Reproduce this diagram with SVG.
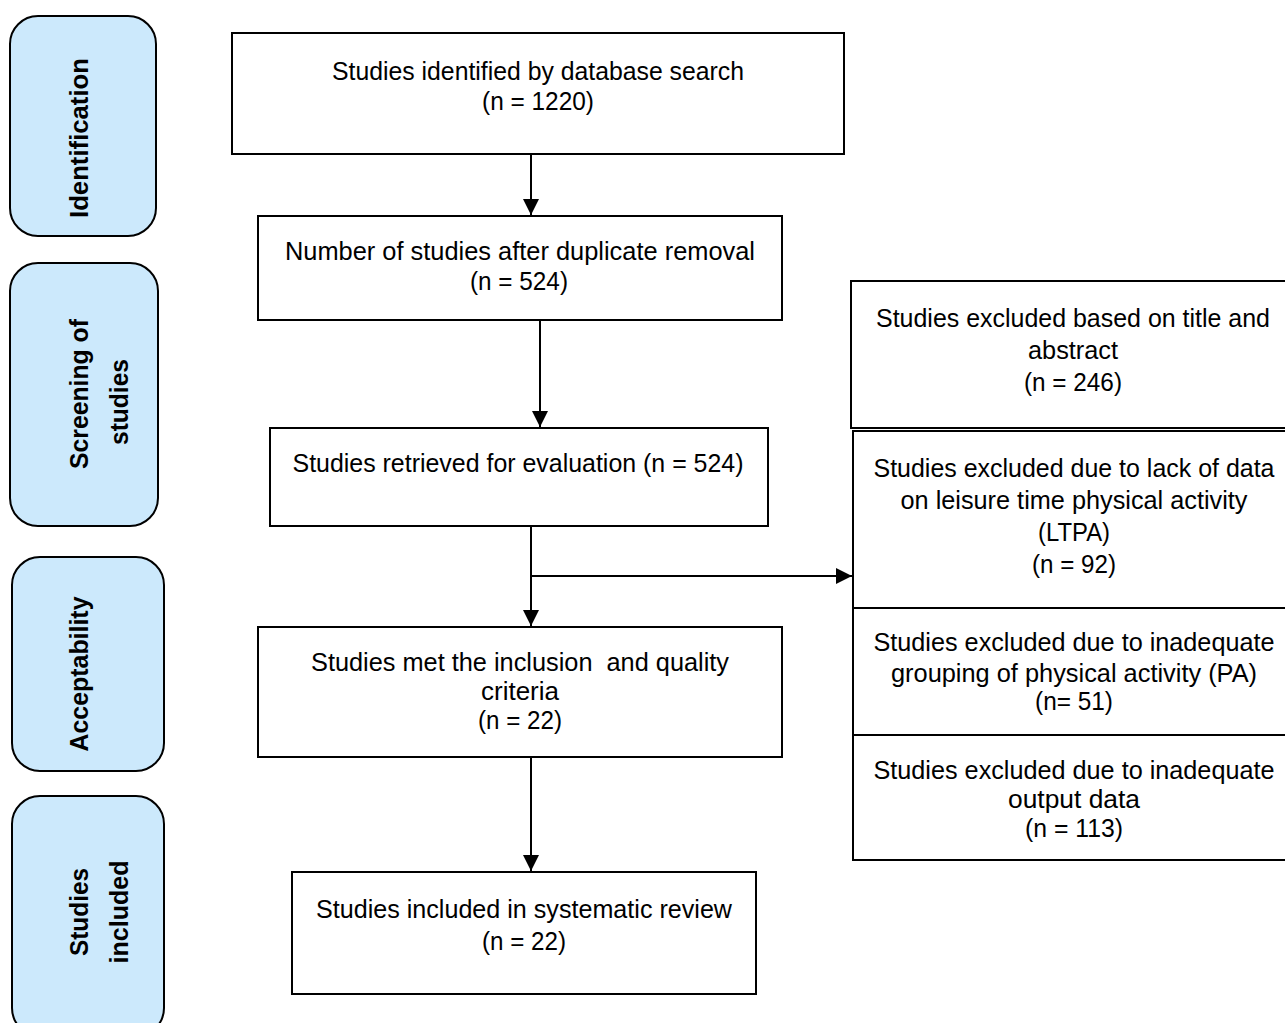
<svg xmlns="http://www.w3.org/2000/svg" width="1285" height="1023" viewBox="0 0 1285 1023">
<defs>
<style>
.box{fill:#fff;stroke:#000;stroke-width:2}
.stage{fill:#cce9fc;stroke:#000;stroke-width:2}
.t{font-family:"Liberation Sans",Arial,sans-serif;font-size:25px;fill:#000;text-anchor:middle}
.s{font-family:"Liberation Sans",Arial,sans-serif;font-size:25px;font-weight:bold;fill:#000;text-anchor:middle}
.c{fill:none;stroke:#000;stroke-width:2}
</style>
<marker id="ah" viewBox="0 0 10 10" refX="10" refY="5" markerWidth="8" markerHeight="8" orient="auto" markerUnits="strokeWidth">
<path d="M0,0 L10,5 L0,10 z" fill="#000"/>
</marker>
</defs>
<rect width="1285" height="1023" fill="#fff"/>

<g id="stage-identification">
<rect class="stage" x="10" y="16" width="146" height="220" rx="28"/>
<text class="s" transform="translate(88,138) rotate(-90)" textLength="160" lengthAdjust="spacingAndGlyphs">Identification</text>
</g>
<g id="stage-screening">
<rect class="stage" x="10" y="263" width="148" height="263" rx="28"/>
<text class="s" transform="translate(88,394) rotate(-90)" textLength="150" lengthAdjust="spacingAndGlyphs">Screening of</text>
<text class="s" transform="translate(128,402) rotate(-90)" textLength="86" lengthAdjust="spacingAndGlyphs">studies</text>
</g>
<g id="stage-acceptability">
<rect class="stage" x="12" y="557" width="152" height="214" rx="28"/>
<text class="s" transform="translate(88,674) rotate(-90)" textLength="155" lengthAdjust="spacingAndGlyphs">Acceptability</text>
</g>
<g id="stage-included">
<rect class="stage" x="12" y="796" width="152" height="240" rx="28"/>
<text class="s" transform="translate(88,912) rotate(-90)" textLength="88" lengthAdjust="spacingAndGlyphs">Studies</text>
<text class="s" transform="translate(128,912) rotate(-90)" textLength="103" lengthAdjust="spacingAndGlyphs">included</text>
</g>

<g id="n-identified">
<rect class="box" x="232" y="33" width="612" height="121"/>
<text class="t" x="538" y="80" textLength="412" lengthAdjust="spacingAndGlyphs">Studies identified by database search</text>
<text class="t" x="538" y="110" textLength="112" lengthAdjust="spacingAndGlyphs">(n = 1220)</text>
</g>
<g id="n-dedup">
<rect class="box" x="258" y="216" width="524" height="104"/>
<text class="t" x="520" y="260" textLength="470" lengthAdjust="spacingAndGlyphs">Number of studies after duplicate removal</text>
<text class="t" x="519" y="290" textLength="98" lengthAdjust="spacingAndGlyphs">(n = 524)</text>
</g>
<g id="n-retrieved">
<rect class="box" x="270" y="428" width="498" height="98"/>
<text class="t" x="518" y="472" textLength="451" lengthAdjust="spacingAndGlyphs">Studies retrieved for evaluation (n = 524)</text>
</g>
<g id="n-met">
<rect class="box" x="258" y="627" width="524" height="130"/>
<text class="t" x="520" y="671" textLength="418" lengthAdjust="spacingAndGlyphs" xml:space="preserve">Studies met the inclusion  and quality</text>
<text class="t" x="520" y="700" textLength="78" lengthAdjust="spacingAndGlyphs">criteria</text>
<text class="t" x="520" y="729" textLength="84" lengthAdjust="spacingAndGlyphs">(n = 22)</text>
</g>
<g id="n-included">
<rect class="box" x="292" y="872" width="464" height="122"/>
<text class="t" x="524" y="918" textLength="416" lengthAdjust="spacingAndGlyphs">Studies included in systematic review</text>
<text class="t" x="524" y="950" textLength="84" lengthAdjust="spacingAndGlyphs">(n = 22)</text>
</g>

<g id="x-title">
<rect class="box" x="851" y="281" width="440" height="147"/>
<text class="t" x="1073" y="327" textLength="394" lengthAdjust="spacingAndGlyphs">Studies excluded based on title and</text>
<text class="t" x="1073" y="359" textLength="90" lengthAdjust="spacingAndGlyphs">abstract</text>
<text class="t" x="1073" y="391" textLength="98" lengthAdjust="spacingAndGlyphs">(n = 246)</text>
</g>
<g id="x-ltpa">
<rect class="box" x="853" y="431" width="440" height="177"/>
<text class="t" x="1074" y="477" textLength="401" lengthAdjust="spacingAndGlyphs">Studies excluded due to lack of data</text>
<text class="t" x="1074" y="509" textLength="347" lengthAdjust="spacingAndGlyphs">on leisure time physical activity</text>
<text class="t" x="1074" y="541" textLength="72" lengthAdjust="spacingAndGlyphs">(LTPA)</text>
<text class="t" x="1074" y="573" textLength="84" lengthAdjust="spacingAndGlyphs">(n = 92)</text>
</g>
<g id="x-grouping">
<rect class="box" x="853" y="608" width="440" height="127"/>
<text class="t" x="1074" y="651" textLength="401" lengthAdjust="spacingAndGlyphs">Studies excluded due to inadequate</text>
<text class="t" x="1074" y="682" textLength="366" lengthAdjust="spacingAndGlyphs">grouping of physical activity (PA)</text>
<text class="t" x="1074" y="710" textLength="78" lengthAdjust="spacingAndGlyphs">(n= 51)</text>
</g>
<g id="x-output">
<rect class="box" x="853" y="735" width="440" height="125"/>
<text class="t" x="1074" y="779" textLength="401" lengthAdjust="spacingAndGlyphs">Studies excluded due to inadequate</text>
<text class="t" x="1074" y="808" textLength="132" lengthAdjust="spacingAndGlyphs">output data</text>
<text class="t" x="1074" y="837" textLength="98" lengthAdjust="spacingAndGlyphs">(n = 113)</text>
</g>

<g id="connectors">
<line class="c" x1="531" y1="154" x2="531" y2="215" marker-end="url(#ah)"/>
<line class="c" x1="540" y1="320" x2="540" y2="427" marker-end="url(#ah)"/>
<line class="c" x1="531" y1="526" x2="531" y2="626" marker-end="url(#ah)"/>
<line class="c" x1="531" y1="576" x2="852" y2="576" marker-end="url(#ah)"/>
<line class="c" x1="531" y1="757" x2="531" y2="871" marker-end="url(#ah)"/>
</g>
</svg>
